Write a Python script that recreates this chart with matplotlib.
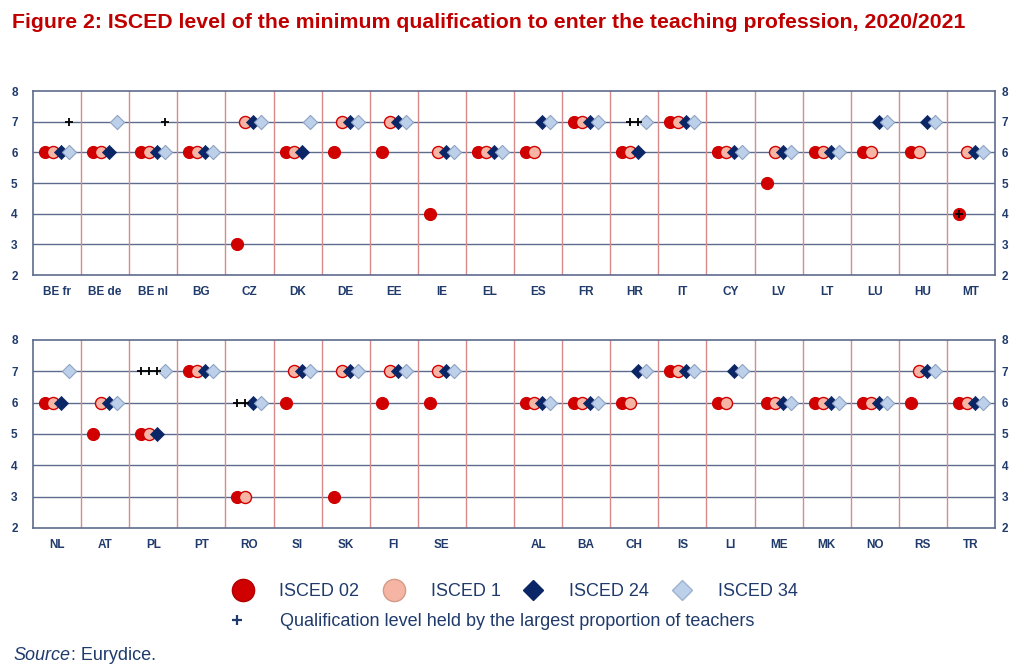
import numpy as np
import matplotlib
matplotlib.use("Agg")
import matplotlib.pyplot as plt
from matplotlib.lines import Line2D

plt.rcParams['font.family'] = ['Liberation Sans', 'DejaVu Sans']

# top panel
countries_top = ["BE fr", "BE de", "BE nl", "BG", "CZ", "DK", "DE", "EE", "IE", "EL",
                 "ES", "FR", "HR", "IT", "CY", "LV", "LT", "LU", "HU", "MT"]
isced02_top = [6, 6, 6, 6, 3, 6, 6, 6, 4, 6, 6, 7, 6, 7, 6, 5, 6, 6, 6, 4]
isced1_top = [6, 6, 6, 6, 7, 6, 7, 7, 6, 6, 6, 7, 6, 7, 6, 6, 6, 6, 6, 6]
isced24_top = [6, 6, 6, 6, 7, 6, 7, 7, 6, 6, 7, 7, 6, 7, 6, 6, 6, 7, 7, 6]
isced34_top = [6, 7, 6, 6, 7, 7, 7, 7, 6, 6, 7, 7, 7, 7, 6, 6, 6, 7, 7, 6]
# (country, slot, level) of the qualification held by most teachers
plus_top = [("BE fr", 3, 7), ("BE nl", 3, 7), ("HR", 1, 7), ("HR", 2, 7), ("MT", 0, 4)]

# bottom panel ("" is the empty column)
countries_bot = ["NL", "AT", "PL", "PT", "RO", "SI", "SK", "FI", "SE", "",
                 "AL", "BA", "CH", "IS", "LI", "ME", "MK", "NO", "RS", "TR"]
isced02_bot = [6, 5, 5, 7, 3, 6, 3, 6, 6, None, 6, 6, 6, 7, 6, 6, 6, 6, 6, 6]
isced1_bot = [6, 6, 5, 7, 3, 7, 7, 7, 7, None, 6, 6, 6, 7, 6, 6, 6, 6, 7, 6]
isced24_bot = [6, 6, 5, 7, 6, 7, 7, 7, 7, None, 6, 6, 7, 7, 7, 6, 6, 6, 7, 6]
isced34_bot = [7, 6, 7, 7, 6, 7, 7, 7, 7, None, 6, 6, 7, 7, 7, 6, 6, 6, 7, 6]
plus_bot = [("PL", 0, 7), ("PL", 1, 7), ("PL", 2, 7), ("RO", 0, 6), ("RO", 1, 6)]

RED = "#d00000"
PINK = "#f6b5a4"
NAVY = "#0b2667"
LIGHTBLUE = "#bcd0ea"
TXT = "#1f3a6b"
GRID = "#5d6b8c"
VLINE = "#d98a8a"

styles = [
    dict(marker="o", s=75, color=RED, edgecolors=RED, linewidths=0.8),
    dict(marker="o", s=75, color=PINK, edgecolors=RED, linewidths=1.0),
    dict(marker="D", s=52, color=NAVY, edgecolors=NAVY, linewidths=0.5),
    dict(marker="D", s=52, color=LIGHTBLUE, edgecolors="#8ea2c4", linewidths=0.8),
]
slot_off = [0.25, 0.4167, 0.5833, 0.75]


def draw_panel(ax, countries, series, pluses):
    ax.set_xlim(0, len(countries))
    ax.set_ylim(2, 8)
    for y in range(3, 8):
        ax.axhline(y, color=GRID, lw=1.0, zorder=1)
    for x in range(1, len(countries)):
        ax.axvline(x, color=VLINE, lw=1.0, zorder=1)
    for k, vals in enumerate(series):
        xs = [i + slot_off[k] for i, v in enumerate(vals) if v is not None]
        ys = [v for v in vals if v is not None]
        ax.scatter(xs, ys, zorder=3 + k, **styles[k])
    for c, slot, lev in pluses:
        i = countries.index(c)
        ax.plot(i + slot_off[slot], lev, marker="+", color="black", ms=6, mew=1.3,
                ls="none", zorder=10)
    ax.set_xticks(np.arange(len(countries)) + 0.5)
    ax.set_xticklabels(countries, fontsize=8.5, fontweight="bold", color=TXT)
    ax.set_yticks(range(2, 9))
    ax.set_yticklabels([str(v) for v in range(2, 9)], fontsize=8.5, fontweight="bold", color=TXT)
    ax.tick_params(axis="x", length=0, pad=8)
    ax.tick_params(axis="y", length=0, pad=11)
    for sp in ax.spines.values():
        sp.set_color(GRID)
        sp.set_linewidth(1.2)
    # right hand labels
    axr = ax.twinx()
    axr.set_ylim(2, 8)
    axr.set_yticks(range(2, 9))
    axr.set_yticklabels([str(v) for v in range(2, 9)], fontsize=8.5, fontweight="bold", color=TXT)
    axr.tick_params(axis="y", length=0, pad=5)
    for sp in axr.spines.values():
        sp.set_visible(False)


W, H = 1024, 669
fig = plt.figure(figsize=(W / 100, H / 100), dpi=100)

ax1 = fig.add_axes([33 / W, 1 - 275 / H, (995 - 33) / W, (275 - 91) / H])
draw_panel(ax1, countries_top, [isced02_top, isced1_top, isced24_top, isced34_top], plus_top)

ax2 = fig.add_axes([33 / W, 1 - 528 / H, (995 - 33) / W, (528 - 340) / H])
draw_panel(ax2, countries_bot, [isced02_bot, isced1_bot, isced24_bot, isced34_bot], plus_bot)

fig.text(12 / W, 1 - 23 / H,
         "Figure 2: ISCED level of the minimum qualification to enter the teaching profession, 2020/2021",
         fontsize=15.3, fontweight="bold", color="#c00000", va="center", ha="left")

# legend
lax = fig.add_axes([0, 0, 1, 1], facecolor="none")
lax.set_xlim(0, W)
lax.set_ylim(H, 0)
lax.axis("off")
leg_items = [
    (243, 279, "ISCED 02", dict(marker="o", ms=16, color=RED, mec="#b00000")),
    (394, 431, "ISCED 1", dict(marker="o", ms=16, color=PINK, mec="#d59a86")),
    (533, 569, "ISCED 24", dict(marker="D", ms=10.5, color=NAVY, mec=NAVY)),
    (682, 718, "ISCED 34", dict(marker="D", ms=10.5, color=LIGHTBLUE, mec="#9fb3d1")),
]
for xm, xt, label, st in leg_items:
    lax.add_line(Line2D([xm], [590], ls="none", **st))
    lax.text(xt, 591, label, fontsize=13, color=TXT, va="center", ha="left")
lax.add_line(Line2D([237], [620], ls="none", marker="+", ms=7, mew=1.6, color=TXT))
lax.text(280, 621, "Qualification level held by the largest proportion of teachers",
         fontsize=13, color=TXT, va="center", ha="left")

src = lax.text(13, 655, "Source", fontsize=13, style="italic", color=TXT,
               va="center", ha="left")
fig.canvas.draw()
bb = src.get_window_extent()
lax.text(bb.x1 + 1, 655, ": Eurydice.", fontsize=13, color=TXT, va="center", ha="left")

fig.savefig("out.png", dpi=100)
